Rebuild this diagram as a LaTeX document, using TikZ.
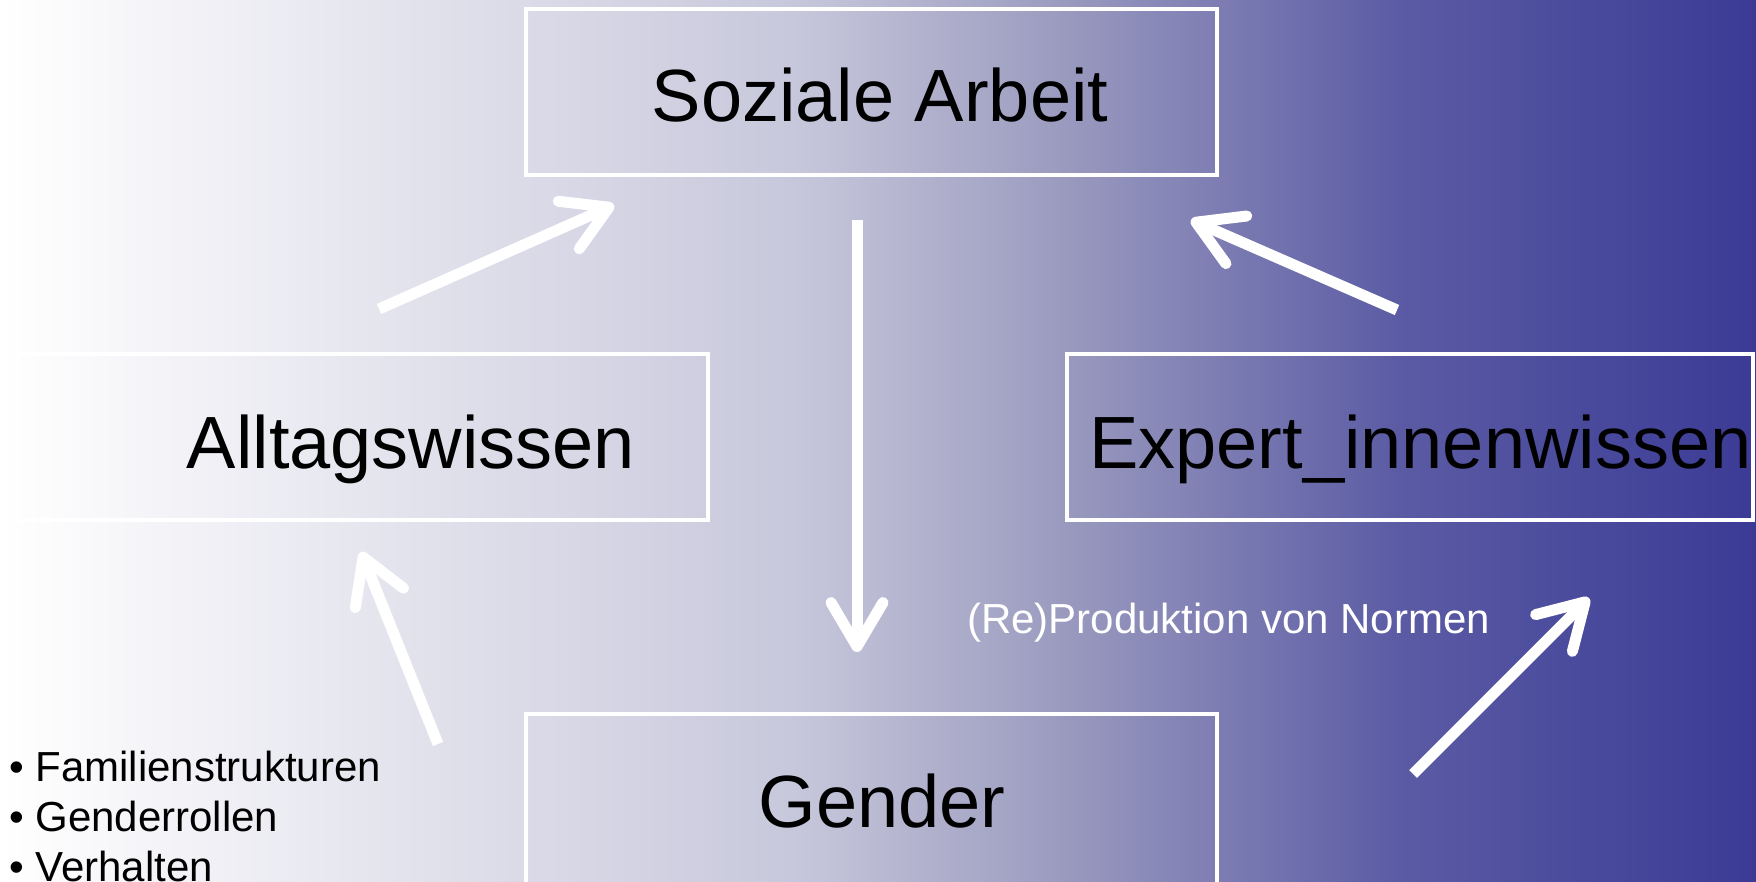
\documentclass[tikz,border=0pt]{standalone}
\usepackage{fontspec}
\setmainfont{Liberation Sans}
\usetikzlibrary{arrows.meta}

\definecolor{bgmid}{HTML}{C8C8DC}
\definecolor{bgmidb}{HTML}{9C9CC0}
\definecolor{bgdarka}{HTML}{5A5AA4}
\definecolor{bgdark}{HTML}{3B3B96}
\pgfdeclarehorizontalshading{slide}{100bp}{color(0bp)=(white); color(25bp)=(white); color(47.5bp)=(bgmid); color(55bp)=(bgmidb); color(65bp)=(bgdarka); color(75bp)=(bgdark); color(100bp)=(bgdark)}

\begin{document}
\begin{tikzpicture}[x=1pt, y=-1pt,
        box/.style={draw=white, line width=4pt, minimum width=691pt, minimum height=166pt, inner sep=0pt},
        bigtext/.style={font=\fontsize{74}{88}\selectfont, inner sep=0pt},
        smalltext/.style={font=\fontsize{42}{50}\selectfont, inner sep=0pt},
        arr/.style={draw=white, line width=11pt, -{Straight Barb[length=44pt, width=52pt, round]}}]
        \clip (0,0) rectangle (1756,881);
        \shade[shading=slide] (0,0) rectangle (1756,881);

        % boxes
        \node[box] (sozial) at (871.5,92) {};
        \node[box] (alltag) at (362.5,437) {};
        \node[box, minimum width=686pt] (expert) at (1410,437) {};
        \node[box, minimum height=172pt] (gender) at (871.5,800) {};

        \node[bigtext, anchor=base] (sozialtext) at (880,121) {Soziale Arbeit};
        \node[bigtext, anchor=base] (alltagtext) at (411,468) {Alltagswissen};
        \node[bigtext, anchor=base west] (experttext) at (1089,468) {Expert\_innenwissen};
        \node[bigtext, anchor=base] (gendertext) at (882,827) {Gender};

        \node[smalltext, text=white, anchor=base west] (normen) at (967,633) {(Re)Produktion von Normen};
        \foreach \word [count=\i] in {Familienstrukturen, Genderrollen, Verhalten} {
            \node[smalltext, anchor=base west] (item\i) at (9,731+50*\i) {• \word};
        }

        % arrows
        \coordinate (a1from) at (379,309);
        \coordinate (a1to) at (614,205);
        \coordinate (a2from) at (857,220);
        \coordinate (a2to) at (857,652);
        \coordinate (a3from) at (1397,310);
        \coordinate (a3to) at (1191,220);
        \coordinate (a4from) at (438,744);
        \coordinate (a4to) at (361,552);
        \coordinate (a5from) at (1413,774);
        \coordinate (a5to) at (1589,598);
        \foreach \i in {1,...,5} {
            \draw[arr] (a\i from) -- (a\i to);
        }
    \end{tikzpicture}
\end{document}
